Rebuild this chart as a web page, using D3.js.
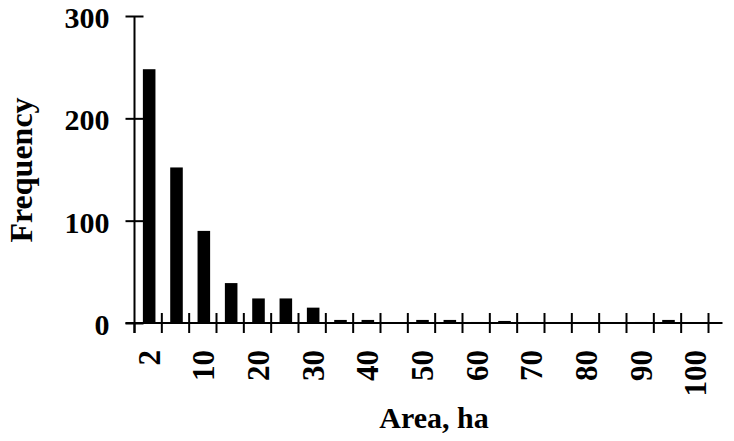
<!DOCTYPE html>
<html>
<head>
<meta charset="utf-8">
<script src="https://cdn.jsdelivr.net/npm/d3@7"></script>
<style>
  html, body { margin: 0; padding: 0; background: #fff; }
  svg { display: block; }
  text { font-family: "Liberation Serif", "Times New Roman", serif; font-weight: bold; fill: #000; }
</style>
</head>
<body>
<svg id="chart" width="734" height="441"></svg>
<script>
const categories = ["2","5","10","15","20","25","30","35","40","45","50","55","60","65","70","75","80","85","90","95","100"];
const frequency  = [248,152,90,39,24,24,15,3,3,0,3,3,1,2,1,0,0,0,1,3,0];
const xTickLabels = ["2","10","20","30","40","50","60","70","80","90","100"];
const yTickValues = [0,100,200,300];

const svg = d3.select("#chart");
const plotLeft = 134.5, plotRight = 708.5, plotTop = 16, plotBottom = 323;

const x = d3.scaleBand().domain(categories).range([plotLeft, plotRight]).padding(0);
const y = d3.scaleLinear().domain([0, 300]).range([plotBottom, plotTop]);
const bw = x.bandwidth();
const barW = bw * 0.46;

// bars
svg.append("g").selectAll("rect")
  .data(categories.map((c, i) => ({c, v: frequency[i]})))
  .join("rect")
  .attr("x", d => x(d.c) + (bw - barW) / 2 + 1)
  .attr("width", barW)
  .attr("y", d => y(d.v))
  .attr("height", d => Math.max(0, plotBottom - y(d.v)))
  .attr("fill", "#000");

// y axis
const yAxis = svg.append("g")
  .attr("transform", `translate(${plotLeft},0)`)
  .call(d3.axisLeft(y).tickValues(yTickValues).tickSize(9).tickPadding(16));
yAxis.select(".domain").remove();
yAxis.selectAll(".tick line").attr("x1", -9).attr("x2", 9).attr("stroke", "#000").attr("stroke-width", 2);
yAxis.selectAll(".tick text")
  .attr("dy", "0.38em")
  .style("font-family", '"Liberation Serif", serif')
  .style("font-weight", "bold")
  .style("font-size", "30px");
svg.append("line")
  .attr("x1", plotLeft).attr("x2", plotLeft).attr("y1", y(300)).attr("y2", plotBottom + 10)
  .attr("stroke", "#000").attr("stroke-width", 2);

// x axis line
svg.append("line")
  .attr("x1", plotLeft - 9).attr("x2", plotRight + 14).attr("y1", plotBottom).attr("y2", plotBottom)
  .attr("stroke", "#000").attr("stroke-width", 2);

// x boundary ticks
const boundaries = categories.map(c => x(c)).concat([x(categories[categories.length - 1]) + bw]);
svg.append("g").selectAll("line")
  .data(boundaries)
  .join("line")
  .attr("x1", d => d).attr("x2", d => d)
  .attr("y1", (d, i) => i === 0 ? plotBottom : plotBottom - 10)
  .attr("y2", plotBottom + 10)
  .attr("stroke", "#000").attr("stroke-width", 2);

// x labels (rotated)
svg.append("g").selectAll("text")
  .data(xTickLabels)
  .join("text")
  .attr("transform", d => `translate(${x(d) + bw / 2 + 1},350) rotate(-90)`)
  .attr("text-anchor", "end")
  .attr("dominant-baseline", "central")
  .style("font-size", "31px")
  .text(d => d);

// axis titles
svg.append("text")
  .attr("x", 434).attr("y", 428)
  .attr("text-anchor", "middle")
  .style("font-size", "30px")
  .text("Area, ha");

svg.append("text")
  .attr("transform", "translate(32,170) rotate(-90)")
  .attr("text-anchor", "middle")
  .style("font-size", "32px")
  .text("Frequency");
</script>
</body>
</html>
